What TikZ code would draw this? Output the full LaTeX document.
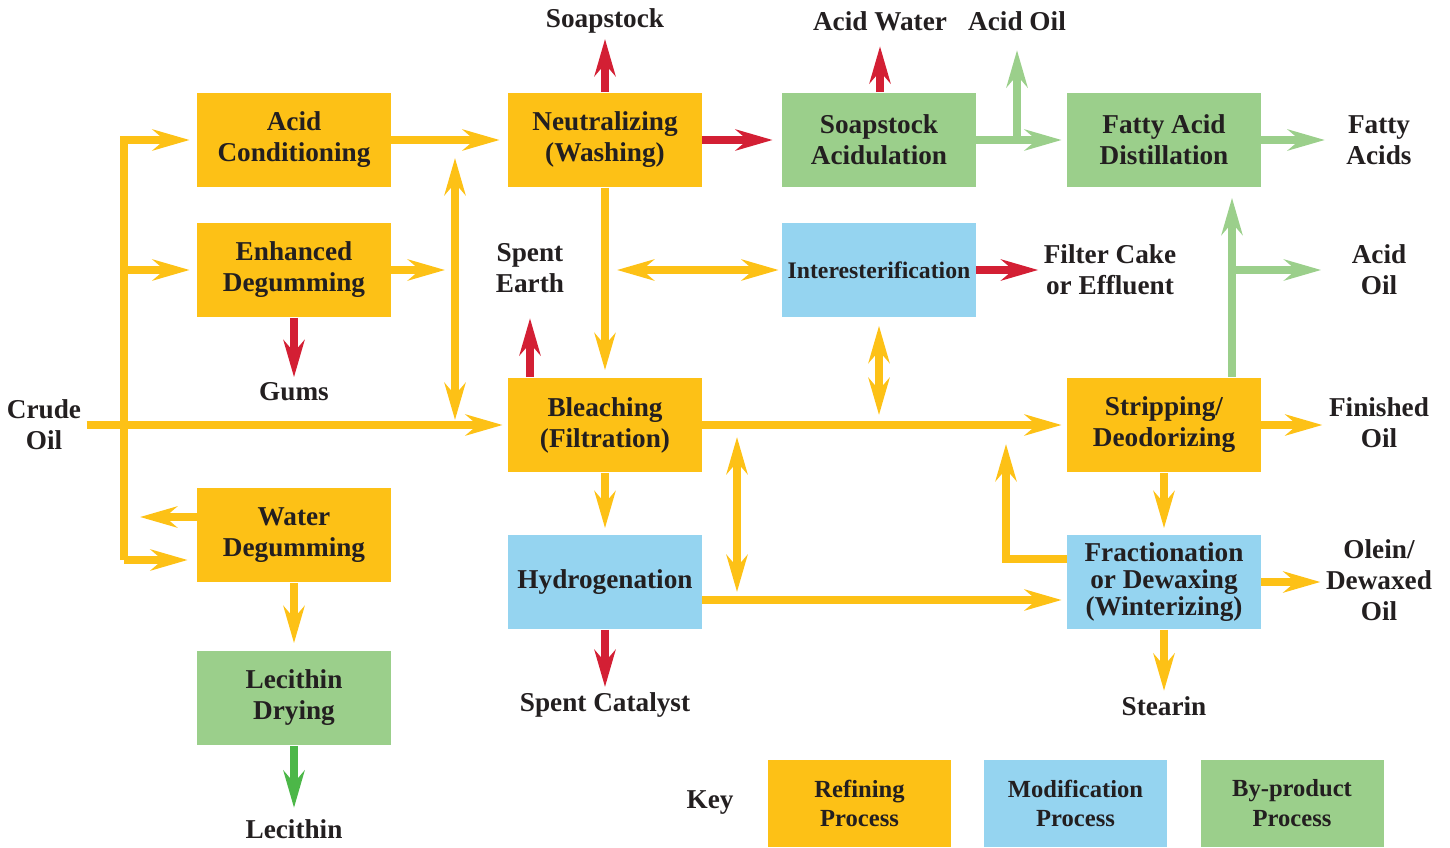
\documentclass[tikz,border=0pt]{standalone}
\usepackage{fontspec}
\setmainfont{Liberation Serif}
\usetikzlibrary{arrows.meta}
\definecolor{refine}{HTML}{FDC116}
\definecolor{modify}{HTML}{95D4F0}
\definecolor{byprod}{HTML}{9BCF8B}
\definecolor{wastered}{HTML}{D31F34}
\definecolor{lecgreen}{HTML}{4CB748}
\definecolor{ink}{HTML}{231F20}
\newcommand\procfont{\fontsize{15.5}{17.6}\selectfont\bfseries}
\newcommand\smallprocfont{\fontsize{13.5}{16}\selectfont\bfseries}
\newcommand\keyfont{\fontsize{14}{17}\selectfont\bfseries}
\tikzset{
  refining/.style={rectangle, fill=refine, minimum width=3.88cm, minimum height=1.9cm, inner sep=0pt, align=center, font=\procfont},
  modification/.style={refining, fill=modify},
  byproduct/.style={refining, fill=byprod},
  keybox/.style={minimum width=3.66cm, minimum height=1.74cm, font=\keyfont},
  product/.style={align=center, inner sep=3pt, font=\procfont},
  flow/.style={->, line width=1.6mm, draw=refine},
  waste/.style={flow, draw=wastered},
  recover/.style={flow, draw=byprod},
  lecflow/.style={flow, draw=lecgreen}
}
\begin{document}
\begin{tikzpicture}[x=0.02cm, y=-0.02cm, >={Stealth[length=7.4mm, width=4.2mm, inset=2.4mm]},
    every node/.style={text=ink}]
  \useasboundingbox (0,0) rectangle (1450,848);

  % process boxes
  \node[refining] (acidcond) at (294,140) {Acid\\Conditioning};
  \node[refining] (enhdeg) at (294,270) {Enhanced\\Degumming};
  \node[refining] (waterdeg) at (294,535) {Water\\Degumming};
  \node[byproduct] (lecdry) at (294,698) {Lecithin\\Drying};
  \node[refining] (neutral) at (605,140) {Neutralizing\\(Washing)};
  \node[refining] (bleach) at (605,425) {Bleaching\\(Filtration)};
  \node[modification] (hydro) at (605,582) {Hydrogenation};
  \node[byproduct] (soapacid) at (879,140) {Soapstock\\Acidulation};
  \node[modification, font=\smallprocfont] (inter) at (879,270) {Interesterification};
  \node[byproduct] (fadist) at (1164,140) {Fatty Acid\\Distillation};
  \node[refining] (strip) at (1164,425) {Stripping/\\Deodorizing};
  \node[modification] (fraction) at (1164,582) {Fractionation\\[-2pt]or Dewaxing\\[-2pt](Winterizing)};

  % inputs and outputs
  \node[product] (crude) at (44,425) {Crude\\Oil};
  \node[product] (soapstock) at (605,21) {Soapstock};
  \node[product] (acidwater) at (880,21) {Acid Water};
  \node[product] (acidoiltop) at (1017,21) {Acid Oil};
  \node[product] (fattyacids) at (1379,140) {Fatty\\Acids};
  \node[product] (spentearth) at (530,268) {Spent\\Earth};
  \node[product] (filtercake) at (1110,270) {Filter Cake\\or Effluent};
  \node[product] (acidoilright) at (1379,270) {Acid\\Oil};
  \node[product] (gums) at (294,392) {Gums};
  \node[product] (finished) at (1379,423) {Finished\\Oil};
  \node[product] (olein) at (1379,580) {Olein/\\Dewaxed\\Oil};
  \node[product] (spentcat) at (605,705) {Spent Catalyst};
  \node[product] (stearin) at (1164,706) {Stearin};
  \node[product] (lecithin) at (294,829) {Lecithin};

  % key
  \node[product] (key) at (710,803) {Key};
  \node[refining, keybox] (keyref) at (859.5,803.5) {Refining\\Process};
  \node[modification, keybox] (keymod) at (1075.5,803.5) {Modification\\Process};
  \node[byproduct, keybox] (keybyp) at (1292,803.5) {By-product\\Process};

  % turning points
  \coordinate (trunktop) at (124,140);
  \coordinate (trunkbot) at (124,560);
  \coordinate (waterout) at (140,517);
  \coordinate (uptop) at (455,158);
  \coordinate (upbot) at (455,420);
  \coordinate (earthgap) at (617,270);
  \coordinate (intbot) at (879,415);
  \coordinate (hydtop) at (737,437);
  \coordinate (hydbot) at (737,592);
  \coordinate (fracturn) at (1006,559);
  \coordinate (fractip) at (1006,444);
  \coordinate (acidtap) at (1017,140);
  \coordinate (striptap) at (1232,270);

  % refining flow
  \draw[flow, shorten >=1mm] (crude) -- (bleach);
  \draw[flow, shorten >=1.4mm] (trunkbot) -- (trunktop) -- (acidcond);
  \draw[flow, shorten >=1.4mm] (trunktop |- enhdeg) -- (enhdeg);
  \draw[flow, shorten >=1.8mm] (trunkbot) -- (trunkbot -| waterdeg.west);
  \draw[flow] (waterdeg.west |- waterout) -- (waterout);
  \draw[flow, shorten >=1.6mm] (acidcond) -- (neutral);
  \draw[flow, shorten >=2mm] (enhdeg) -- (enhdeg -| uptop);
  \draw[flow, <->] (uptop) -- (upbot);
  \draw[flow, shorten >=1.4mm] (neutral) -- (bleach);
  \draw[flow, <->, shorten >=0.6mm] (earthgap) -- (inter);
  \draw[flow, <->, shorten <=1.6mm] (inter) -- (intbot);
  \draw[flow, shorten >=1mm] (bleach) -- (strip);
  \draw[flow, <->] (hydtop) -- (hydbot);
  \draw[flow, shorten >=1.2mm] (bleach) -- (hydro);
  \draw[flow, shorten >=1mm] ([yshift=-0.36cm]hydro.east) -- ([yshift=-0.36cm]fraction.west);
  \draw[flow] (fraction.west |- fracturn) -- (fracturn) -- (fractip);
  \draw[flow, shorten >=1.2mm] (strip) -- (fraction);
  \draw[flow, shorten >=0.2mm] (strip) -- (strip -| finished.west);
  \draw[flow] (fraction) -- (fraction -| olein.west);
  \draw[flow] (fraction) -- (stearin);
  \draw[flow, shorten >=1.4mm] (waterdeg) -- (lecdry);

  % waste streams
  \draw[waste] (neutral) -- (soapstock);
  \draw[waste, shorten >=1.8mm] (neutral) -- (soapacid);
  \draw[waste, shorten >=2mm] (soapacid.north -| acidwater) -- (acidwater);
  \draw[waste] (inter) -- (filtercake);
  \draw[waste] (enhdeg) -- (gums);
  \draw[waste, shorten >=4mm] (bleach.north -| spentearth) -- (spentearth);
  \draw[waste] (hydro) -- (spentcat);

  % by-product streams
  \draw[recover, shorten >=1mm] (soapacid) -- (fadist);
  \draw[recover, shorten >=2.8mm] (acidtap) -- (acidoiltop);
  \draw[recover, shorten >=2mm] (strip.north -| striptap) -- (striptap |- fadist.south);
  \draw[recover, shorten >=5mm] (striptap) -- (acidoilright);
  \draw[recover, shorten >=3.2mm] (fadist) -- (fattyacids);
  \draw[lecflow, shorten >=1.2mm] (lecdry) -- (lecithin);
\end{tikzpicture}
\end{document}
